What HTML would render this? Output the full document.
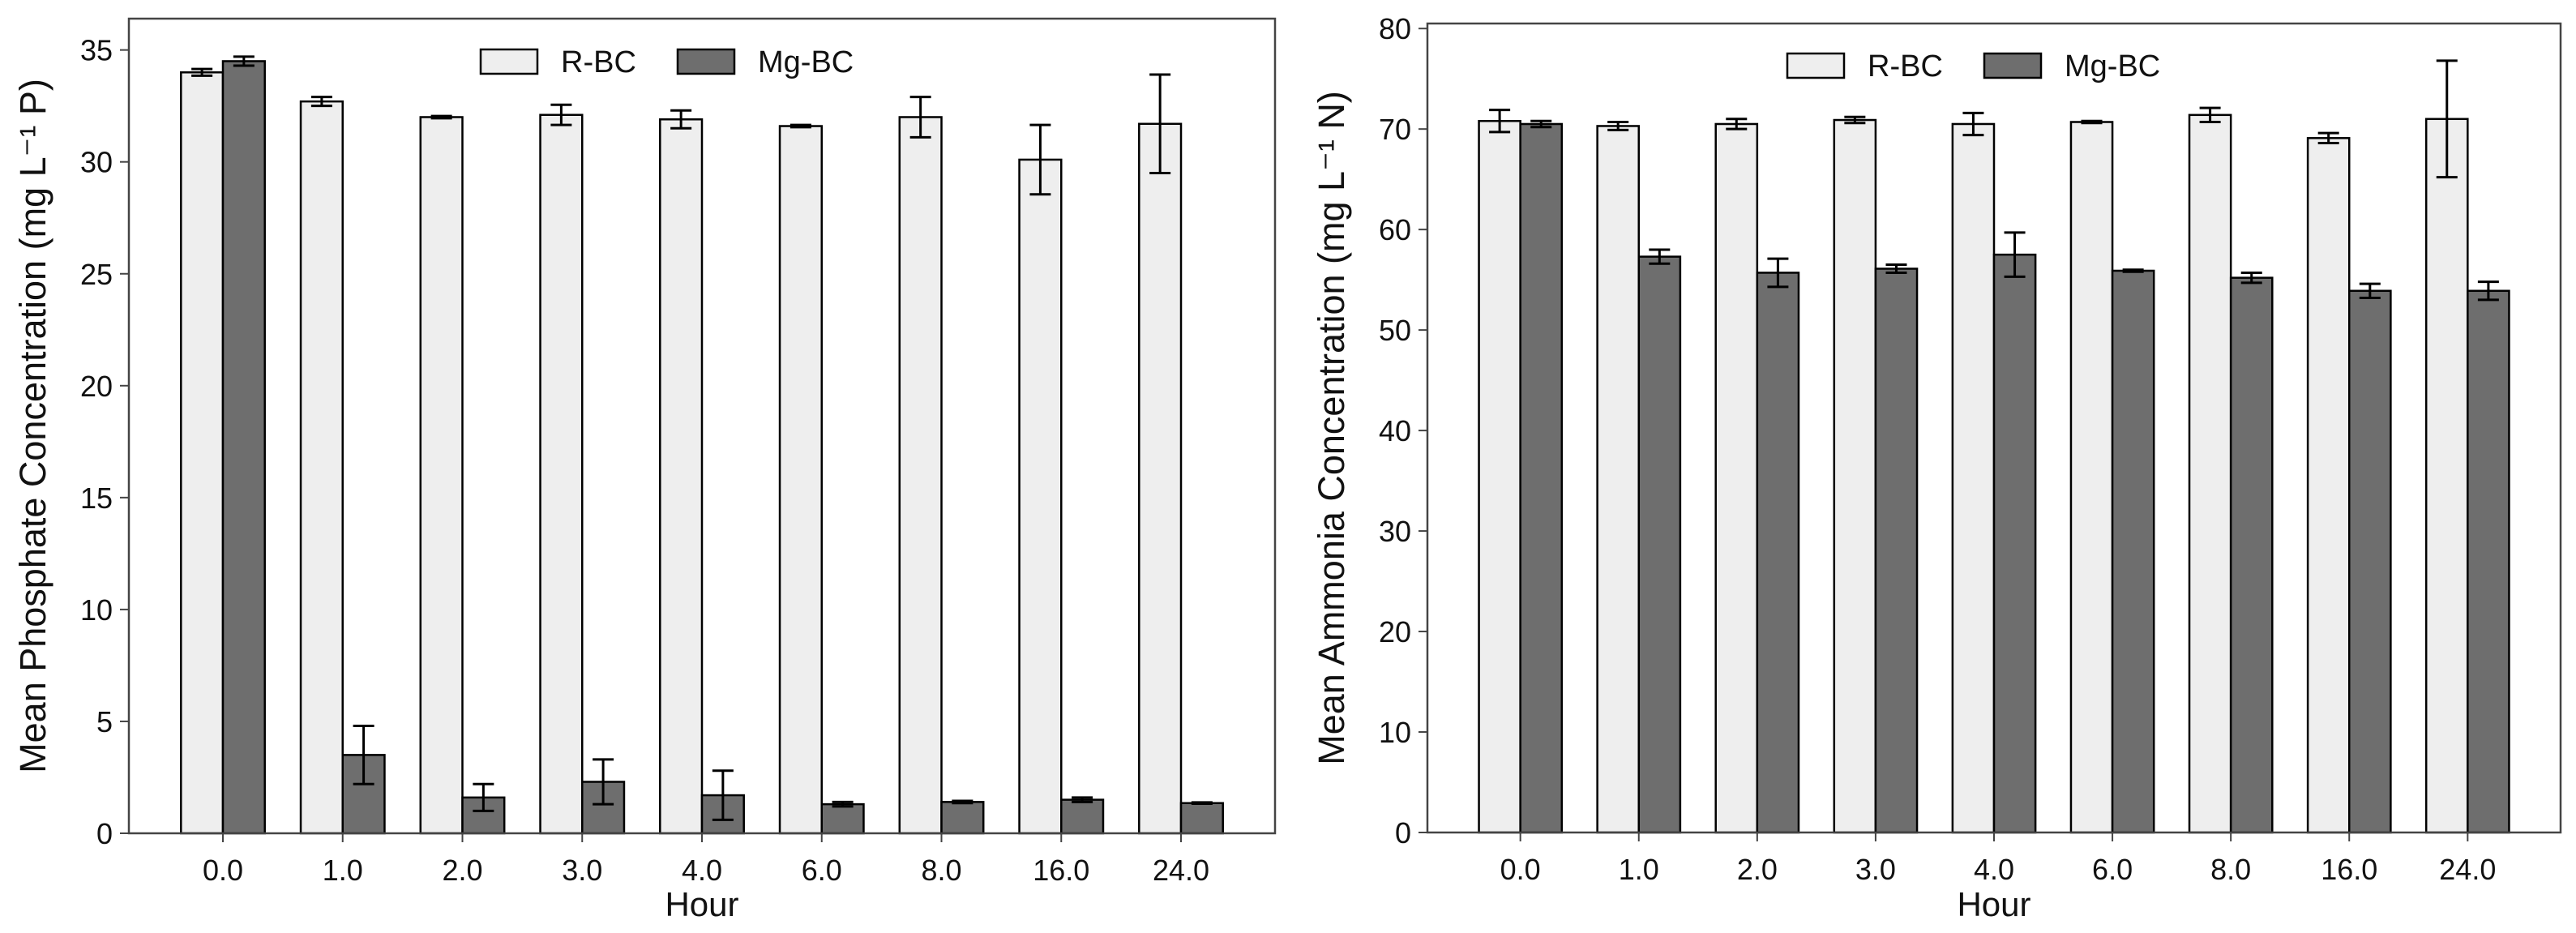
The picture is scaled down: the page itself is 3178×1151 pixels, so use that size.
<!DOCTYPE html>
<html><head><meta charset="utf-8"><style>
html,body{margin:0;padding:0;background:#fff;}
svg{display:block;font-family:"Liberation Sans","DejaVu Sans",sans-serif;}
</style></head><body>
<svg id="chart" width="3178" height="1151" viewBox="0 0 3178 1151" xmlns="http://www.w3.org/2000/svg"></svg>
<script>
const categories = ["0.0","1.0","2.0","3.0","4.0","6.0","8.0","16.0","24.0"];
const phosR = [34.0,32.7,32.0,32.1,31.9,31.6,32.0,30.1,31.7];
const phosRErr = [0.15,0.2,0.05,0.45,0.4,0.05,0.9,1.55,2.2];
const phosMg = [34.5,3.5,1.6,2.3,1.7,1.3,1.4,1.5,1.35];
const phosMgErr = [0.2,1.3,0.6,1.0,1.1,0.1,0.05,0.1,0.03];
const ammR = [70.8,70.3,70.5,70.9,70.5,70.7,71.4,69.1,71.0];
const ammRErr = [1.1,0.4,0.5,0.3,1.1,0.1,0.7,0.5,5.8];
const ammMg = [70.5,57.3,55.7,56.1,57.5,55.9,55.2,53.9,53.9];
const ammMgErr = [0.3,0.7,1.4,0.4,2.2,0.1,0.5,0.7,0.9];
const phosTicks = [0,5,10,15,20,25,30,35];
const ammTicks = [0,10,20,30,40,50,60,70,80];

const svg = document.getElementById('chart');
const NS = 'http://www.w3.org/2000/svg';
function mk(tag, attrs, parent){const e=document.createElementNS(NS,tag);for(const k in attrs)e.setAttribute(k,attrs[k]);(parent||svg).appendChild(e);return e;}

function panel(p){
  const g = mk('g',{});
  
  
  const xlo=-0.785, xhi=8.785;
  const X = v => p.x0 + (v-xlo)/(xhi-xlo)*(p.x1-p.x0);
  const Y = v => p.y1 - (v/p.ymax)*(p.y1-p.y0);
  const bw = 0.35;
  categories.forEach((c,i)=>{
    [[p.r,p.rErr,'#eeeeee',-bw,'r-bc'],[p.m,p.mErr,'#6e6e6e',0,'mg-bc']].forEach(([vals,errs,fill,off,nm])=>{
      const xl=X(i+off), xr=X(i+off+bw);
      const b = mk('rect',{x:xl,y:Y(vals[i]),width:xr-xl,height:Y(0)-Y(vals[i]),fill:fill,stroke:'#000','stroke-width':2.5},g);
      
      
      const cx=(xl+xr)/2, hi=Y(vals[i]+errs[i]), lo=Y(vals[i]-errs[i]);
      const e = mk('path',{d:`M${cx},${hi}V${lo}M${cx-13},${hi}H${cx+13}M${cx-13},${lo}H${cx+13}`,stroke:'#000','stroke-width':3,fill:'none'},g);
      
      
    });
    const tx=X(i);
    mk('line',{x1:tx,x2:tx,y1:p.y1,y2:p.y1+11,stroke:'#444','stroke-width':2},g);
    const t = mk('text',{x:tx,y:p.y1+58,'text-anchor':'middle','font-size':36,fill:'#111'},g);
    t.textContent=c;
    
    
  });
  p.ticks.forEach(v=>{
    const ty=Y(v);
    mk('line',{x1:p.x0-11,x2:p.x0,y1:ty,y2:ty,stroke:'#444','stroke-width':2},g);
    const t = mk('text',{x:p.x0-20,y:ty+13,'text-anchor':'end','font-size':36,fill:'#111'},g);
    t.textContent=v;
    
    
  });
  const fr = mk('rect',{x:p.x0,y:p.y0,width:p.x1-p.x0,height:p.y1-p.y0,fill:'none',stroke:'#444','stroke-width':2.5},g);
  
  
  const xt = mk('text',{x:(p.x0+p.x1)/2,y:1130,'text-anchor':'middle','font-size':42,fill:'#111'},g);
  xt.textContent='Hour';
  
  
  const yt = mk('text',{x:0,y:0,'text-anchor':'middle','font-size':45,fill:'#111',transform:`translate(${p.ytx},${(p.y0+p.y1)/2}) rotate(-90)`},g);
  yt.textContent=p.ytitle;
  
  
  const lg = mk('g',{},g);
  
  
  [[p.lx,'#eeeeee','R-BC'],[p.lx+243,'#6e6e6e','Mg-BC']].forEach(([lx,f,txt])=>{
    const r = mk('rect',{x:lx,y:p.ly,width:70,height:30,fill:f,stroke:'#000','stroke-width':2.5},lg);
    
    
    const t = mk('text',{x:lx+99,y:p.ly+28,'font-size':38,fill:'#111'},lg);
    t.textContent=txt;
    
    
  });
}
panel({name:'phosphate-chart',x0:159,x1:1573,y0:23,y1:1028,ymax:36.4,ticks:phosTicks,r:phosR,rErr:phosRErr,m:phosMg,mErr:phosMgErr,ytitle:'Mean Phosphate Concentration (mg L⁻¹ P)',ytx:56,lx:593,ly:61});
panel({name:'ammonia-chart',x0:1761,x1:3159,y0:29,y1:1027,ymax:80.5,ticks:ammTicks,r:ammR,rErr:ammRErr,m:ammMg,mErr:ammMgErr,ytitle:'Mean Ammonia Concentration (mg L⁻¹ N)',ytx:1658,lx:2205,ly:66});
</script>
</body></html>
